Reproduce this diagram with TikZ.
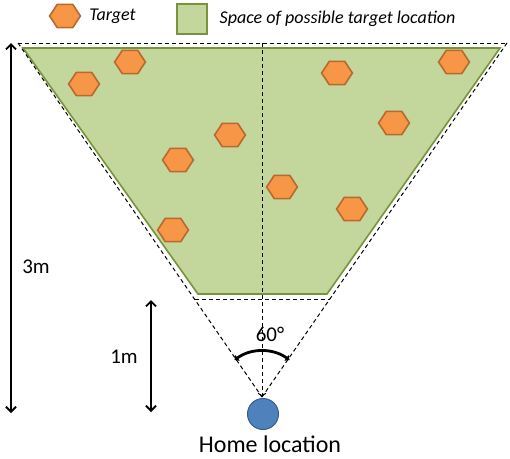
\documentclass[tikz,border=0pt]{standalone}
\usepackage{fontspec}
\setmainfont{Carlito}
\usetikzlibrary{shapes.geometric,arrows.meta,positioning}
\definecolor{areafill}{HTML}{C3D69B}
\definecolor{areadraw}{HTML}{77933C}
\definecolor{hexfill}{HTML}{F79646}
\definecolor{hexdraw}{HTML}{B7692F}
\definecolor{homefill}{HTML}{4F81BD}
\definecolor{homedraw}{HTML}{385D8A}
\begin{document}
\begin{tikzpicture}[x=1pt,y=-1pt,
                    line width=1pt,
                    font=\fontsize{21}{24}\selectfont]
    \tikzstyle{target}=[regular polygon,regular polygon sides=6,minimum size=27pt,inner sep=0pt,transform shape,xscale=1.14,fill=hexfill,draw=hexdraw,line width=1.6pt]
    \tikzstyle{areakey}=[rectangle,minimum size=30pt,inner sep=0pt,fill=areafill,draw=areadraw,line width=1.6pt]
    \tikzstyle{area}=[fill=areafill,draw=areadraw,line width=1.6pt]
    \tikzstyle{guide}=[dash pattern=on 4pt off 3pt,line width=1pt]
    \tikzstyle{home}=[circle,minimum size=31pt,inner sep=0pt,fill=homefill,draw=homedraw,line width=1pt]
    \tikzstyle{dimarrow}=[{Straight Barb[length=5pt,width=10pt]}-{Straight Barb[length=5pt,width=10pt]},line width=1.8pt]
    \tikzstyle{anglearc}=[{Latex[length=4pt,width=8pt]}-{Latex[length=4pt,width=8pt]},line width=2.8pt]
    \tikzstyle{legend}=[font=\fontsize{18}{21}\selectfont\itshape]

    \useasboundingbox (0,0) rectangle (510,458);

    % legend
    \node[target] (legtarget) at (65,16) {};
    \node[legend,right=4pt of legtarget] (legtargettext) {Target};
    \node[areakey] (legarea) at (192,19) {};
    \node[legend,right=8pt of legarea] (legareatext) {Space of possible target location};

    % field of view
    \coordinate (tl) at (18,43);
    \coordinate (tr) at (507,43);
    \coordinate (top) at (262,43);
    \coordinate (apex) at (262,397);
    \coordinate (bl) at (195,299);
    \coordinate (br) at (330,299);

    \draw[area] (23,48) -- (500,48) -- (327,294) -- (198,294) -- cycle;
    \draw[guide] (tl) -- (tr);
    \draw[guide] (tl) -- (apex);
    \draw[guide] (tr) -- (apex);
    \draw[guide] (bl) -- (br);
    \draw[guide,-{To[length=4pt]}] (top) -- (apex);

    % targets
    \node[target] (t1) at (84,84) {};
    \node[target] (t2) at (130,62) {};
    \node[target] (t3) at (230,135) {};
    \node[target] (t4) at (178,160) {};
    \node[target] (t5) at (173,230) {};
    \node[target] (t6) at (282,187) {};
    \node[target] (t7) at (337,73) {};
    \node[target] (t8) at (454,62) {};
    \node[target] (t9) at (394,123) {};
    \node[target] (t10) at (352,209) {};

    % angle
    \draw[anglearc] (apex) ++(-127:46) arc[start angle=-127,end angle=-53,radius=46];
    \node (angle) at (270,334) {60°};

    % home
    \node[home] (home) at (263,414) {};
    \node[inner sep=0pt,font=\fontsize{24}{28}\selectfont] (homelabel) at (270,444) {Home location};

    % distances
    \coordinate (d3top) at (11,43);
    \coordinate (d3bot) at (11,413);
    \draw[dimarrow] (d3top) -- (d3bot);
    \node (d3label) at (36,267) {3m};
    \coordinate (d1top) at (151,300);
    \coordinate (d1bot) at (151,412);
    \draw[dimarrow] (d1top) -- (d1bot);
    \node (d1label) at (124,357) {1m};
\end{tikzpicture}
\end{document}
